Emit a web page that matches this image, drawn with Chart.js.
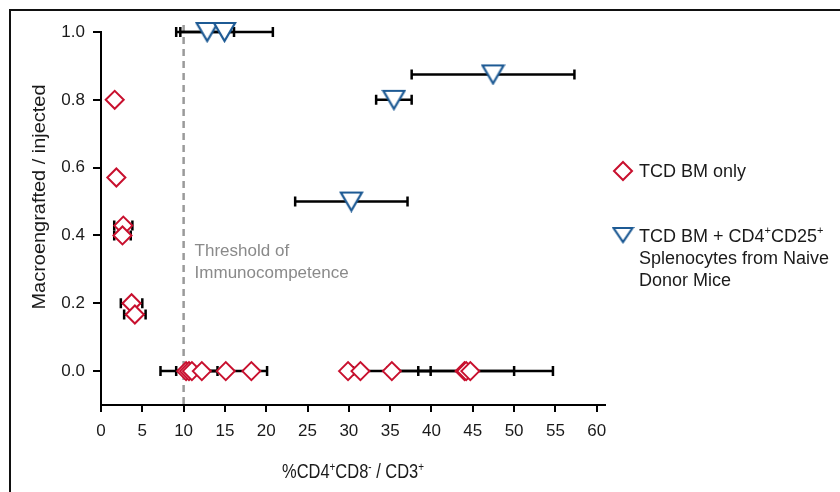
<!DOCTYPE html>
<html>
<head>
<meta charset="utf-8">
<script src="https://cdn.jsdelivr.net/npm/chart.js@4.4.1/dist/chart.umd.min.js"></script>
<style>
  html, body { margin: 0; padding: 0; background: #fff; }
</style>
</head>
<body>
<canvas id="engraftChart" width="840" height="492"></canvas>
<script>
// TCD BM only (red diamonds)
const tcdX = [1.66, 1.86, 2.7, 2.6, 3.7, 4.1, 10.3, 10.65, 11.0, 12.2, 15.1, 18.2, 29.9, 31.4, 35.2, 44.0, 44.2, 44.7];
const tcdY = [0.8, 0.571, 0.429, 0.4, 0.2, 0.167, 0, 0, 0, 0, 0, 0, 0, 0, 0, 0, 0, 0];
const tcdErr = [0, 0, 1.1, 1.0, 1.3, 1.3, 0, 3.45, 0, 3.1, 5.0, 0, 0, 0, 4.7, 0, 5.8, 10.0];

// TCD BM + CD4+CD25+ splenocytes (blue triangles)
const tregX = [12.85, 14.95, 47.45, 35.45, 30.3];
const tregY = [1.0, 1.0, 0.875, 0.8, 0.5];
const tregErr = [3.25, 5.85, 9.85, 2.15, 6.8];

const xTicks = [0, 5, 10, 15, 20, 25, 30, 35, 40, 45, 50, 55, 60];
const yTicks = [0, 0.2, 0.4, 0.6, 0.8, 1.0];
const threshold = 10;

const RED = "#c8102e";
const BLUE = "#1d5a94";
const INK = "#1a1a1a";
const SANS = "'Liberation Sans', Arial, sans-serif";

function toPoints(xs, ys, errs) {
    return xs.map((v, i) => ({ x: v, y: ys[i], err: errs[i] }));
}

// down-pointing open triangle, centred at half height like the original
function downTriangle(w, h, color, lw) {
    const c = document.createElement("canvas");
    c.width = w + 4;
    c.height = h + 4;
    const g = c.getContext("2d");
    g.beginPath();
    g.moveTo(2, 2);
    g.lineTo(w + 2, 2);
    g.lineTo(w / 2 + 2, h + 2);
    g.closePath();
    g.fillStyle = "#fff";
    g.fill();
    g.lineWidth = lw;
    g.strokeStyle = color;
    g.stroke();
    return c;
}

const triMarker = downTriangle(21, 18, BLUE, 2.2);
const triLegend = downTriangle(19, 14, BLUE, 2.2);

// text with small raised "+" / "-" parts
function drawRich(ctx, parts, x, y, size, width, raise) {
    const fontFor = (sup) => (sup ? Math.round(size * 0.62) : size) + "px " + SANS;
    let total = 0;
    parts.forEach(([text, sup]) => {
        ctx.font = fontFor(sup);
        total += ctx.measureText(text).width;
    });
    const sx = width ? width / total : 1;
    ctx.save();
    ctx.translate(x, y);
    ctx.scale(sx, 1);
    let cx = 0;
    parts.forEach(([text, sup]) => {
        ctx.font = fontFor(sup);
        ctx.fillText(text, cx, sup ? -size * (raise || 0.45) : 0);
        cx += ctx.measureText(text).width;
    });
    ctx.restore();
    return total * sx;
}

// threshold line + horizontal error bars, under the markers
const underlay = {
    id: "underlay",
    beforeDatasetsDraw(chart) {
        const { ctx, chartArea, scales: { x, y } } = chart;
        ctx.save();

        const tx = x.getPixelForValue(threshold);
        ctx.strokeStyle = "#9a9a9a";
        ctx.lineWidth = 2.5;
        ctx.setLineDash([7, 5]);
        ctx.beginPath();
        ctx.moveTo(tx, chartArea.top - 7);
        ctx.lineTo(tx, chartArea.bottom);
        ctx.stroke();
        ctx.setLineDash([]);

        ctx.fillStyle = "#8a8a8a";
        ctx.font = "17px " + SANS;
        ctx.textAlign = "left";
        ctx.textBaseline = "alphabetic";
        ctx.fillText("Threshold of", tx + 11, 256);
        ctx.fillText("Immunocompetence", tx + 11, 278);

        ctx.strokeStyle = "#000";
        ctx.lineWidth = 2.5;
        chart.data.datasets.forEach((ds) => {
            ds.data.forEach((p) => {
                if (!p.err) return;
                const x0 = x.getPixelForValue(p.x - p.err);
                const x1 = x.getPixelForValue(p.x + p.err);
                const py = y.getPixelForValue(p.y);
                ctx.beginPath();
                ctx.moveTo(x0, py);
                ctx.lineTo(x1, py);
                ctx.moveTo(x0, py - 5);
                ctx.lineTo(x0, py + 5);
                ctx.moveTo(x1, py - 5);
                ctx.lineTo(x1, py + 5);
                ctx.stroke();
            });
        });
        ctx.restore();
    },
};

// frame, axis titles and legend
const overlay = {
    id: "overlay",
    afterDraw(chart) {
        const { ctx, chartArea } = chart;
        ctx.save();

        ctx.strokeStyle = "#111";
        ctx.lineWidth = 2;
        ctx.beginPath();
        ctx.moveTo(10, 492);
        ctx.lineTo(10, 10);
        ctx.lineTo(840, 10);
        ctx.stroke();

        ctx.fillStyle = INK;
        ctx.textAlign = "left";
        ctx.textBaseline = "alphabetic";

        // x title, condensed
        const xw = 142;
        const xc = (chartArea.left + chartArea.right) / 2;
        drawRich(ctx, [["%CD4", false], ["+", true], ["CD8", false], ["-", true], [" / CD3", false], ["+", true]],
            xc - xw / 2, 478, 20, xw, 0.33);

        // y title, rotated
        ctx.save();
        ctx.translate(45, 197 + 225 / 2);
        ctx.rotate(-Math.PI / 2);
        drawRich(ctx, [["Macroengrafted / injected", false]], 0, 0, 19, 225);
        ctx.restore();

        // legend
        ctx.beginPath();
        ctx.moveTo(623, 162);
        ctx.lineTo(632, 171);
        ctx.lineTo(623, 180);
        ctx.lineTo(614, 171);
        ctx.closePath();
        ctx.fillStyle = "#fff";
        ctx.fill();
        ctx.strokeStyle = RED;
        ctx.lineWidth = 2;
        ctx.stroke();
        ctx.drawImage(triLegend, 623 - triLegend.width / 2, 235 - triLegend.height / 2);

        ctx.fillStyle = INK;
        drawRich(ctx, [["TCD BM only", false]], 639, 177, 18);
        drawRich(ctx, [["TCD BM + CD4", false], ["+", true], ["CD25", false], ["+", true]], 639, 242, 18);
        drawRich(ctx, [["Splenocytes from Naive", false]], 639, 264, 18);
        drawRich(ctx, [["Donor Mice", false]], 639, 286, 18);
        ctx.restore();
    },
};

const tickFont = { family: SANS, size: 17 };

new Chart(document.getElementById("engraftChart"), {
    type: "scatter",
    data: {
        datasets: [
            {
                label: "TCD BM only",
                data: toPoints(tcdX, tcdY, tcdErr),
                pointStyle: "rectRot",
                pointRadius: 9,
                borderWidth: 2,
                borderColor: RED,
                backgroundColor: "#fff",
                clip: false,
            },
            {
                label: "TCD BM + CD4+CD25+ Splenocytes from Naive Donor Mice",
                data: toPoints(tregX, tregY, tregErr),
                pointStyle: triMarker,
                clip: false,
            },
        ],
    },
    options: {
        responsive: false,
        animation: false,
        devicePixelRatio: 1,
        layout: { padding: { top: 32, right: 235, left: 0, bottom: 0 } },
        plugins: { legend: { display: false }, tooltip: { enabled: false } },
        scales: {
            x: {
                type: "linear",
                min: 0,
                max: 61,
                afterBuildTicks: (s) => { s.ticks = xTicks.map((v) => ({ value: v })); },
                afterFit: (s) => { s.height = 87; },
                grid: { drawOnChartArea: false, drawTicks: true, tickLength: 7, color: "#000", lineWidth: 2 },
                border: { color: "#000", width: 2 },
                ticks: { color: INK, font: tickFont, padding: 9, maxRotation: 0, autoSkip: false },
            },
            y: {
                type: "linear",
                min: -0.1,
                max: 1.0,
                afterBuildTicks: (s) => { s.ticks = yTicks.map((v) => ({ value: v })); },
                afterFit: (s) => { s.width = 101; },
                grid: { drawOnChartArea: false, drawTicks: true, tickLength: 8, color: "#000", lineWidth: 2 },
                border: { color: "#000", width: 2 },
                ticks: { color: INK, font: tickFont, padding: 8, callback: (v) => v.toFixed(1) },
            },
        },
    },
    plugins: [underlay, overlay],
});
</script>
</body>
</html>
